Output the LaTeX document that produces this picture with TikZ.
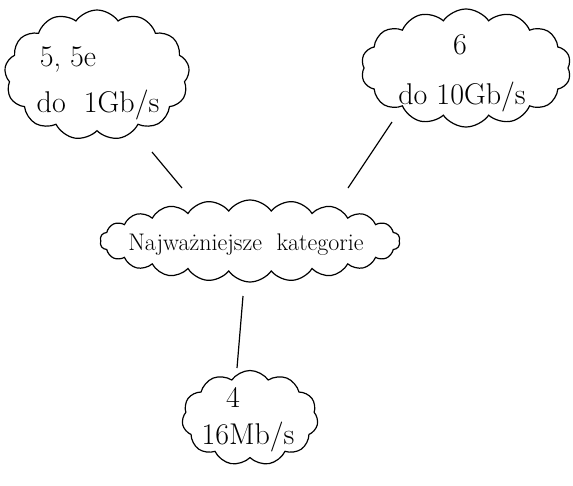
\documentclass[tikz,border=0pt]{standalone}
\usetikzlibrary{shapes.symbols}
\begin{document}
\begin{tikzpicture}[x=1pt,y=-1pt,
  cl/.style={cloud, draw, line width=1.2pt, cloud puff arc=110, align=center, inner sep=0pt},
  link/.style={line width=1.2pt},
  txt/.style={font=\fontsize{30}{36}\selectfont, align=center}]
\useasboundingbox (0,0) rectangle (573,485);
\node[cl, cloud puffs=13, aspect=1.4, minimum width=185pt, minimum height=130pt] (tl) at (97,75) {};
\node[cl, cloud puffs=14, aspect=1.7, minimum width=210pt, minimum height=118pt] (tr) at (466,68) {};
\node[cl, cloud puffs=22, aspect=3.6, minimum width=300pt, minimum height=82pt] (mid) at (250,241) {};
\node[cl, cloud puffs=11, aspect=1.4, minimum width=136pt, minimum height=95pt] (bot) at (250,418) {};
\node[txt] (t1) at (68,60) {5, 5e};
\node[txt] (t2) at (98,105) {do\ \ 1Gb/s};
\node[txt] (t3) at (460,45) {6};
\node[txt] (t4) at (462,97) {do 10Gb/s};
\node[font=\fontsize{24}{28}\selectfont] (t5) at (246,245) {Najważniejsze\ \ kategorie};
\node[txt] (t6) at (233,397) {4};
\node[txt] (t7) at (248,437) {16Mb/s};
\coordinate (a1) at (152,152);
\coordinate (a2) at (182,188);
\coordinate (b1) at (392,122);
\coordinate (b2) at (348,188);
\coordinate (c1) at (243,296);
\coordinate (c2) at (237,368);
\draw[link] (a1) -- (a2);
\draw[link] (b1) -- (b2);
\draw[link] (c1) -- (c2);
\end{tikzpicture}
\end{document}
